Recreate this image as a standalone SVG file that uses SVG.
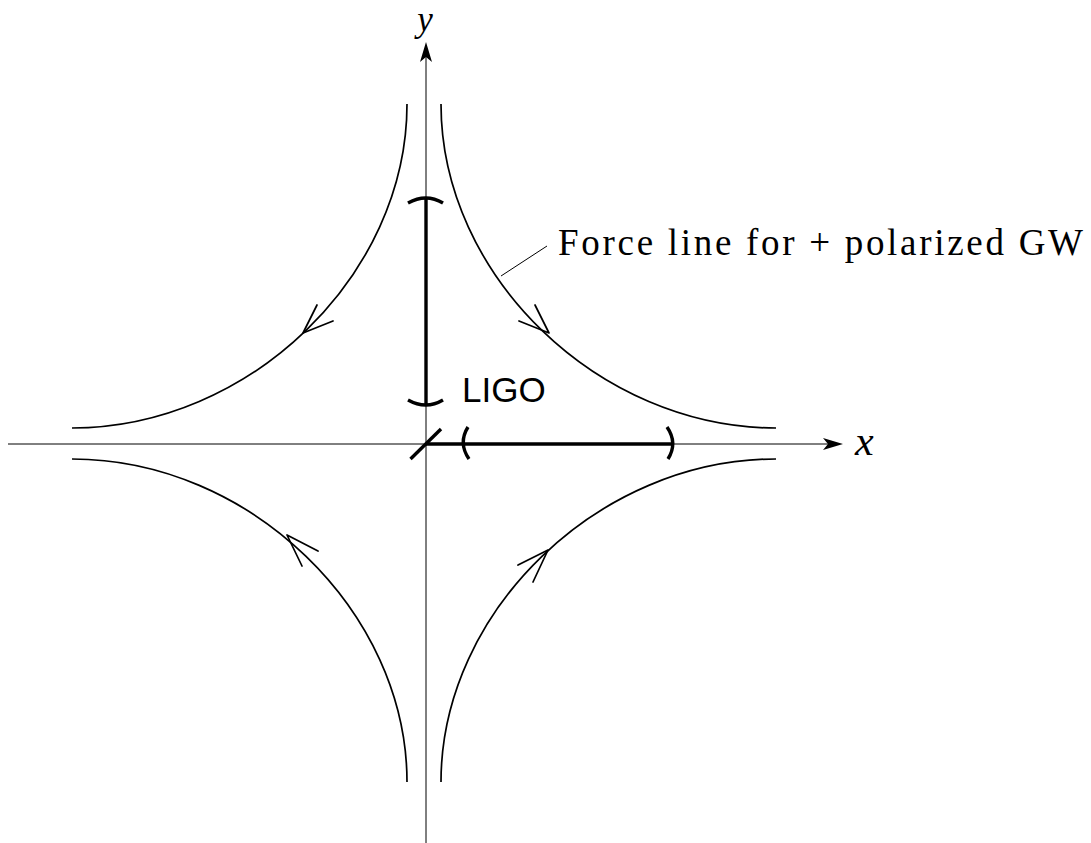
<svg xmlns="http://www.w3.org/2000/svg" width="1091" height="843" viewBox="0 0 1091 843">
  <style>
    .axis { stroke: #000; stroke-width: 1; fill: none; }
    .curve { stroke: #000; stroke-width: 1.7; fill: none; }
    .barb { stroke: #000; stroke-width: 1.7; fill: none; stroke-linecap: round; stroke-linejoin: round; }
    .thick { stroke: #000; stroke-width: 3.4; fill: none; }
    .head { fill: #000; stroke: none; }
    .math { font-family: "Liberation Serif", "DejaVu Serif", serif; font-style: italic; font-size: 42px; fill: #000; }
    .ylab { font-size: 35px; }
    .serif { font-family: "Liberation Serif", "DejaVu Serif", serif; font-size: 37px; fill: #000; }
    .sans { font-family: "Liberation Sans", Arial, sans-serif; font-size: 35px; fill: #000; }
  </style>
  <rect width="1091" height="843" fill="#fff"/>
  <g id="axes">
    <line class="axis" x1="426" y1="843" x2="426" y2="52"/>
    <path class="head" d="M426,42 L432,62 L426,57 L420,62 Z"/>
    <line class="axis" x1="8" y1="444" x2="833" y2="444"/>
    <path class="head" d="M843,444 L823,450 L828,444 L823,438 Z"/>
    <text class="math ylab" x="425" y="31" text-anchor="middle">y</text>
    <text class="math" x="855" y="455">x</text>
  </g>
  <g id="force-lines">
    <path class="curve" d="M441,104 C441,275.7 598.5,428 776,428"/>
    <path class="curve" d="M407,104 C407,275.7 249.5,428 72,428"/>
    <path class="curve" d="M72,459 C249.5,459 407,610.8 407,782"/>
    <path class="curve" d="M776,459 C598.5,459 441,610.8 441,782"/>
    <path class="barb" d="M317,305 L303,333 L333,321"/>
    <path class="barb" d="M535,305 L549,333 L519,321"/>
    <path class="barb" d="M318,551 L287,535 L302,566"/>
    <path class="barb" d="M518,565 L548,550 L533,582"/>
  </g>
  <g id="ligo">
    <line class="thick" x1="426" y1="198" x2="426" y2="405"/>
    <path class="thick" d="M408,203 Q426,193 443,203"/>
    <path class="thick" d="M408,400 Q426,410 443,400"/>
    <line class="thick" x1="426" y1="444" x2="672" y2="444"/>
    <path class="thick" d="M468,427 Q458,443 469,459"/>
    <path class="thick" d="M667,427 Q678,443 668,459"/>
    <line class="thick" x1="410.5" y1="459" x2="441" y2="429"/>
    <text class="sans" x="462" y="402">LIGO</text>
  </g>
  <g id="label">
    <line class="axis" x1="501" y1="276" x2="547" y2="246"/>
    <text class="serif" x="558" y="255" textLength="525" lengthAdjust="spacing">Force line for + polarized GW</text>
  </g>
</svg>
